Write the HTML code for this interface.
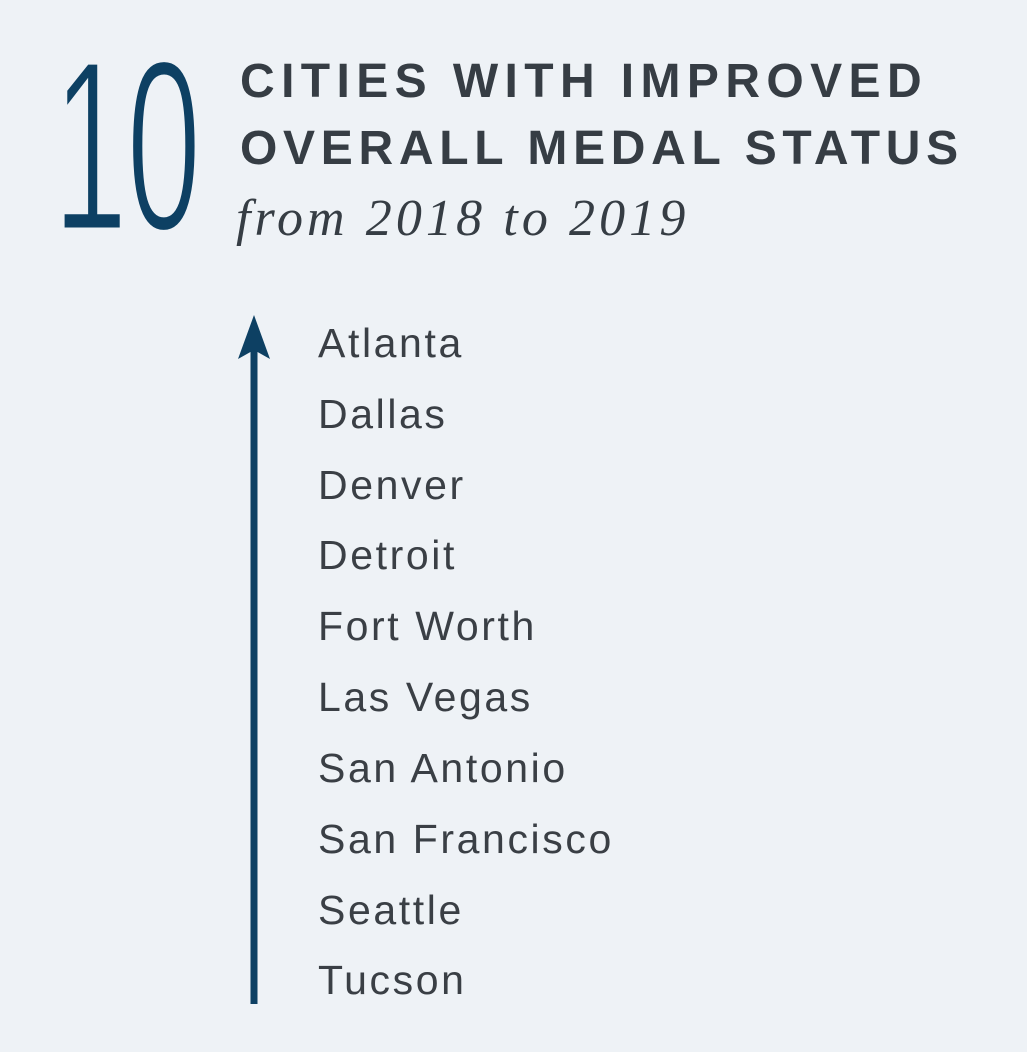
<!DOCTYPE html>
<html><head><meta charset="utf-8"><style>
html,body{margin:0;padding:0;}
body{width:1027px;height:1052px;background:#eef2f6;position:relative;overflow:hidden;font-family:"Liberation Sans",sans-serif;}
.big{position:absolute;left:53px;top:24px;font-size:244px;line-height:1;color:#0d4063;transform:scaleX(0.55);transform-origin:0 0;letter-spacing:-2px;-webkit-text-stroke:5px #eef2f6;}
.t{position:absolute;left:240px;font-weight:bold;font-size:48px;color:#363d44;white-space:nowrap;line-height:1;}
.sub{position:absolute;left:236px;top:193px;font-family:"Liberation Serif",serif;font-style:italic;font-size:52px;letter-spacing:4.1px;color:#363d44;white-space:nowrap;line-height:1;}
.c{position:absolute;left:318px;font-size:41px;letter-spacing:2.6px;color:#3a3f45;white-space:nowrap;line-height:1;}
</style></head><body>
<div class="big">10</div>
<div class="t" style="top:58px;letter-spacing:6.4px">CITIES WITH IMPROVED</div>
<div class="t" style="top:125px;letter-spacing:5.7px">OVERALL MEDAL STATUS</div>
<div class="sub">from 2018 to 2019</div>
<svg style="position:absolute;left:0;top:0" width="1027" height="1052">
<line x1="254" y1="350" x2="254" y2="1004" stroke="#0d4063" stroke-width="7"/>
<polygon points="254,315 238,359 254,350 270,359" fill="#0d4063"/>
</svg>
<div class="c" style="top:323px">Atlanta</div>
<div class="c" style="top:394px">Dallas</div>
<div class="c" style="top:465px">Denver</div>
<div class="c" style="top:535px">Detroit</div>
<div class="c" style="top:606px">Fort Worth</div>
<div class="c" style="top:677px">Las Vegas</div>
<div class="c" style="top:748px">San Antonio</div>
<div class="c" style="top:819px">San Francisco</div>
<div class="c" style="top:890px">Seattle</div>
<div class="c" style="top:960px">Tucson</div>
</body></html>
